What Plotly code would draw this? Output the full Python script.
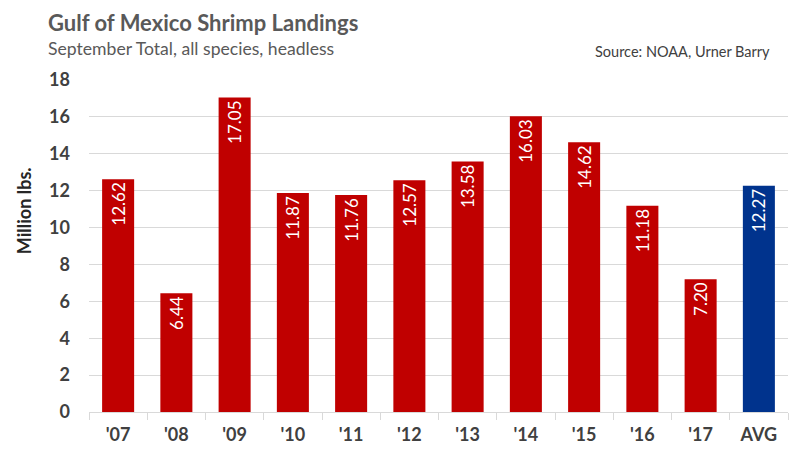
import plotly.graph_objects as go

categories = ["'07", "'08", "'09", "'10", "'11", "'12", "'13", "'14", "'15", "'16", "'17", "AVG"]
values = [12.62, 6.44, 17.05, 11.87, 11.76, 12.57, 13.58, 16.03, 14.62, 11.18, 7.20, 12.27]
colors = ["#C00000"] * 11 + ["#00338D"]
labels = [f"{v:.2f}" for v in values]

font_family = "Lato, 'Open Sans', sans-serif"

fig = go.Figure(go.Bar(
    x=categories, y=values, marker_color=colors, marker_line_width=0,
    text=labels, textposition="inside", insidetextanchor="end", textangle=-90,
    textfont=dict(color="white", size=17, family=font_family),
    width=0.55,
))

# page body has an 8px margin; compensate so the plot area sits at x 89-788, y 80-412
fig.update_layout(
    width=800, height=455,
    margin=dict(l=81, r=20, t=72, b=51),
    paper_bgcolor="white", plot_bgcolor="white",
    showlegend=False,
    font=dict(family=font_family, color="#404040"),
    uniformtext=dict(mode=False),
)
fig.add_annotation(text="<b>Gulf of Mexico Shrimp Landings</b>", xref="paper", yref="paper",
                   x=-0.0615, y=1.172, xanchor="left", yanchor="middle", showarrow=False,
                   font=dict(size=22, color="#595959", family=font_family))
fig.add_annotation(text="September Total, all species, headless", xref="paper", yref="paper",
                   x=-0.0615, y=1.096, xanchor="left", yanchor="middle", showarrow=False,
                   font=dict(size=17.6, color="#595959", family=font_family))
fig.add_annotation(text="Source: NOAA, Urner Barry", xref="paper", yref="paper",
                   x=0.977, y=1.087, xanchor="right", yanchor="middle", showarrow=False,
                   font=dict(size=14.5, color="#404040", family=font_family))
fig.add_annotation(text="<b>Million lbs.</b>", xref="paper", yref="paper",
                   x=-0.093, y=0.608, xanchor="center", yanchor="middle", showarrow=False,
                   textangle=-90, font=dict(size=18, color="#262626", family=font_family))

fig.update_yaxes(range=[0, 18], dtick=2, showgrid=True, gridcolor="#D9D9D9", gridwidth=1,
                 zeroline=False, showline=False,
                 tickfont=dict(size=18, color="#404040", family=font_family), ticklabelstandoff=18,
                 tickprefix="<b>", ticksuffix="</b>")
fig.update_xaxes(showline=True, linecolor="#D9D9D9", linewidth=1, ticks="outside", ticklen=7,
                 tickcolor="#D9D9D9", tickson="boundaries", ticklabelstandoff=6,
                 tickfont=dict(size=18, color="#404040", family=font_family),
                 tickprefix="<b>", ticksuffix="</b>")

fig.write_html("out.html")
